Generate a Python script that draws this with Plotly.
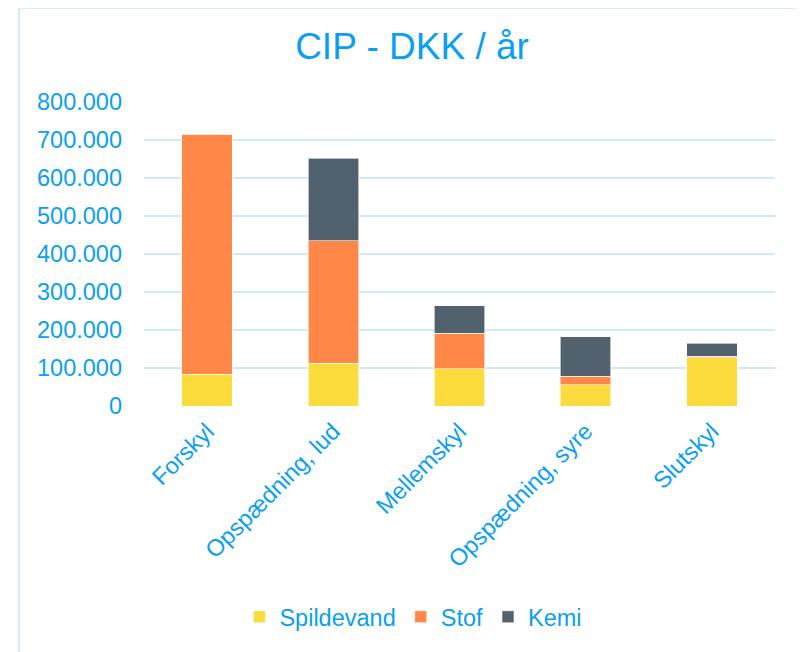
import plotly.graph_objects as go

categories = ["Forskyl", "Opspædning, lud", "Mellemskyl", "Opspædning, syre", "Slutskyl"]
spildevand = [84000, 113000, 98000, 56000, 127000]
stof = [631000, 322000, 94000, 22000, 4000]
kemi = [0, 217000, 72000, 104000, 34000]
tick_vals = [0, 100000, 200000, 300000, 400000, 500000, 600000, 700000, 800000]
tick_text = ["0", "100.000", "200.000", "300.000", "400.000", "500.000", "600.000", "700.000", "800.000"]

TXT = "#0a9ff0"
FONT = "Liberation Sans, Arial, sans-serif"
FS = 23.5

fig = go.Figure()
for name, vals, col in [("Spildevand", spildevand, "#fbdc3c"),
                        ("Stof", stof, "#ff8747"),
                        ("Kemi", kemi, "#51616d")]:
    fig.add_trace(go.Bar(x=categories, y=vals, name=name,
                         marker=dict(color=col, line=dict(color="rgba(255,255,255,0.6)", width=1))))

# page has an 8px body margin: figure coordinates = page coordinates - 8
fig.update_layout(
    barmode="stack",
    bargap=0.6,
    width=804, height=652,
    margin=dict(l=136, r=37, t=94, b=254),
    paper_bgcolor="white", plot_bgcolor="white",
    font=dict(family=FONT, color=TXT, size=FS),
    title=dict(text="CIP - DKK / år", x=404/804, xanchor="center", y=1-38/652, yanchor="middle",
               font=dict(size=37, color=TXT, family=FONT)),
    legend=dict(orientation="h", x=0.427, xanchor="center", y=-0.694, yanchor="middle",
                font=dict(size=FS, color=TXT), traceorder="normal"),
    xaxis=dict(tickangle=-45, showgrid=False, showline=False, ticks="", ticklabelstandoff=6,
               tickfont=dict(size=FS, color=TXT)),
    yaxis=dict(range=[0, 800000], tickvals=tick_vals, ticktext=tick_text, showgrid=True,
               gridcolor="#cfeafc", gridwidth=2, zeroline=False, showline=False,
               ticklabelstandoff=21, tickfont=dict(size=FS, color=TXT)),
    shapes=[dict(type="rect", xref="paper", yref="paper",
                 x0=(11-136)/631, x1=(795-136)/631, y0=-0.9, y1=(398)/304,
                 line=dict(color="#d3edfc", width=2), fillcolor="rgba(0,0,0,0)", layer="below")],
)

fig.write_html("out.html")
